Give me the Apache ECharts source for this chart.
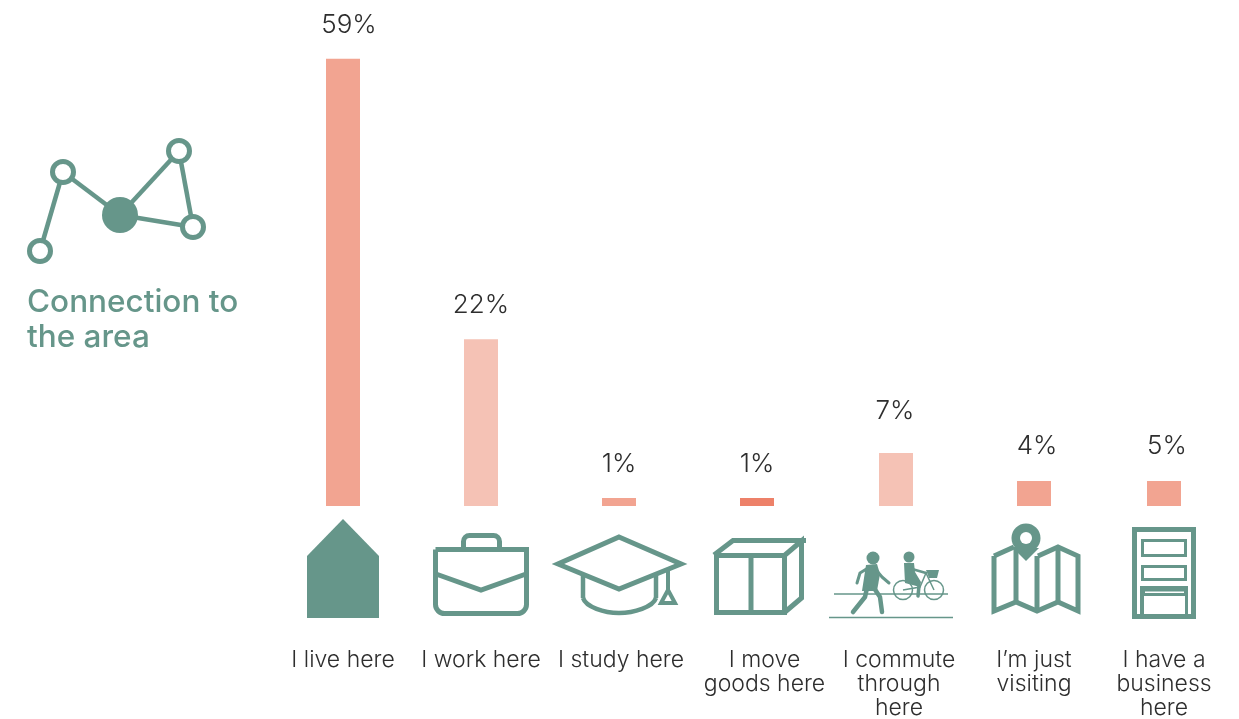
<!DOCTYPE html>
<html><head><meta charset="utf-8">
<style>html,body{margin:0;padding:0;background:#fff}#c{width:1239px;height:719px}</style>
<script src="https://cdn.jsdelivr.net/npm/echarts@6/dist/echarts.min.js"></script>
</head><body><div id="c"></div>
<script>
// ---- data ----
const categories = ['I live here','I work here','I study here','I move\ngoods here','I commute\nthrough\nhere','I\u2019m just\nvisiting','I have a\nbusiness\nhere'];
const valueLabels = ['59%','22%','1%','1%','7%','4%','5%'];
// bar heights as drawn (the last two are drawn equally tall in the original)
const barValues = [59,22,1.05,1.05,7,3.3,3.3];
const barShades = ['mid','light','mid','strong','light','mid','mid'];
const titleText = 'Connection to\nthe area';

// ---- layout / style ----
const GREEN='#66968a', TEXT='#2e2e2e';
const shadeColor={mid:'#f2a491',light:'#f5c2b5',strong:'#ed8169'};
const FONT='Inter';
const barNudge=[0,0,0,0,1,1,-7];
const valueNudge=[6,0,0,0,0,4,-4];
const valueLift=[0,0,0,0,8,1,1];
const catNudge=[0,0,2,7.5,4,1,-7];

const rich={};
catNudge.forEach((n,i)=>{rich['c'+i]={fontFamily:FONT,fontWeight:300,fontSize:23,lineHeight:24,color:TEXT,
  padding:n>=0?[0,0,0,2*n]:[0,-2*n,0,0]};});

// ---- icon helpers (decoration only) ----
const lw=(s,w,extra)=>Object.assign({stroke:GREEN,lineWidth:w,fill:null},extra||{});
const pl=(points,w,extra)=>({type:'polyline',shape:{points},style:lw(0,w,extra)});
const pg=(points)=>({type:'polygon',shape:{points},style:{fill:GREEN}});
const ring=(cx,cy,r,w)=>({type:'circle',shape:{cx,cy,r},style:{fill:'#fff',stroke:GREEN,lineWidth:w}});
const disc=(cx,cy,r,fill)=>({type:'circle',shape:{cx,cy,r},style:{fill:fill||GREEN}});
const box=(x,y,width,height,w,r)=>({type:'rect',shape:{x,y,width,height,r:r||0},style:{fill:null,stroke:GREEN,lineWidth:w}});
const solid=(x,y,width,height,fill)=>({type:'rect',shape:{x,y,width,height},style:{fill:fill||GREEN}});
const round={lineCap:'round',lineJoin:'round'};

const icons=[
 // network
 pl([[40,251],[63,172]],4.5),pl([[63,172],[120,215]],4.5),pl([[120,215],[179,151]],4.5),
 pl([[179,151],[193,227]],4.5),pl([[120,215],[193,227]],4.5),
 ring(63,172,10.5,5),ring(40,251,10.5,5),ring(179,151,10.5,5),ring(193,227,10.5,5),disc(120,215,18),
 // house
 pg([[343,519],[379,556],[379,618],[307,618],[307,556]]),
 // briefcase
 {type:'rect',shape:{x:435.5,y:549.5,width:91,height:64,r:[0,0,9,9]},style:{fill:null,stroke:GREEN,lineWidth:5}},
 {type:'rect',shape:{x:463.5,y:535.5,width:36,height:14,r:[6,6,0,0]},style:{fill:null,stroke:GREEN,lineWidth:5}},
 pl([[436,574],[481,590],[526,574]],5),
 // graduation cap
 {type:'bezierCurve',shape:{x1:583,y1:598,cpx1:586,cpy1:607,cpx2:604,cpy2:613,x2:619,y2:613},style:lw(0,4.5)},
 {type:'bezierCurve',shape:{x1:619,y1:613,cpx1:634,cpy1:613,cpx2:653,cpy2:607,x2:656,y2:598},style:lw(0,4.5)},
 pl([[583,575],[583,598]],4.5),pl([[656,575],[656,598]],4.5),
 {type:'polygon',shape:{points:[[619,537],[681,564],[619,589],[558,564]]},style:{fill:'#fff',stroke:GREEN,lineWidth:5,lineJoin:'miter',miterLimit:10}},
 pl([[668,570],[668,590]],4),
 {type:'polygon',shape:{points:[[668,590],[675,603],[661,603]]},style:{fill:'#fff',stroke:GREEN,lineWidth:4}},
 // box
 box(716.5,555.5,68,57,5),solid(748.5,555,5,58),
 pl([[714,555],[733,540.5],[806,540.5]],5),
 pl([[785,555],[801.5,541],[801.5,598],[785,612]],5),
 // commuters
 pl([[834,594],[948,594]],1.5),pl([[829,617.5],[953,617.5]],1.5),
 disc(873,558,6.5),
 pg([[866,565],[877,564],[880,574],[877,591],[862,591]]),
 pl([[868,568],[860,573],[857,583]],3,round),pl([[877,571],[882,577],[889,583]],3,round),
 pl([[867,588],[865,597],[853,612]],4.5,round),pl([[874,588],[880,597],[882,612]],4.5,round),
 {type:'circle',shape:{cx:903,cy:590,r:9.5},style:{fill:null,stroke:GREEN,lineWidth:1.5}},
 {type:'circle',shape:{cx:934,cy:590,r:9.5},style:{fill:null,stroke:GREEN,lineWidth:1.5}},
 disc(909,557,5.5),
 pg([[904,563],[914,563],[915,572],[921,582],[920,587],[905,583]]),
 pl([[912,569],[926,573]],2.5,round),pl([[917,583],[919,586],[918,596]],3.5,round),
 pl([[903,590],[920,587],[926,573],[934,590]],1.5),
 pg([[926,570],[939,570],[937,578],[929,578]]),
 // map
 pl([[994,556],[994,611],[1016,602],[1037,611],[1058,602],[1078,611],[1078,556],[1058,547],[1038,556]],5),
 pl([[994,556],[1014,547]],5),
 pl([[1016,547],[1016,602]],5),pl([[1037,556],[1037,611]],5),pl([[1058,547],[1058,602]],5),
 {type:'polygon',shape:{points:[[1013,548],[1039,548],[1026,561]]},style:{fill:GREEN}},
 disc(1026,538,14.5),disc(1026,538,6,'#fff'),
 // business door
 box(1134.5,529.5,59,87,5),solid(1132,614,64,5),
 box(1142.5,540.5,43,15,3),box(1142.5,566.5,43,13,3),
 solid(1140,586,48,29),solid(1144,596,41,18,'#fff'),solid(1145,591.5,39,1.6,'#fff')
];
icons.forEach(o=>{o.silent=true;});

// ---- chart ----
const chart=echarts.init(document.getElementById('c'),null,{renderer:'canvas'});
chart.setOption({
  animation:false,
  backgroundColor:'#fff',
  title:{text:titleText,left:27,top:285,padding:0,
    textStyle:{fontFamily:FONT,fontWeight:500,fontSize:31.5,lineHeight:35,color:GREEN}},
  grid:{left:274,width:966,top:51.2,height:454.8,outerBoundsMode:'none'},
  xAxis:{type:'category',data:categories,axisLine:{show:false},axisTick:{show:false},splitLine:{show:false},
    axisLabel:{interval:0,margin:142,hideOverlap:false,
      formatter:(v,i)=>v.split('\n').map(l=>`{c${i}|${l}}`).join('\n'),rich}},
  yAxis:{type:'value',min:0,max:60,show:false},
  graphic:icons,
  series:[{type:'custom',clip:false,
    data:barValues.map((v,i)=>[i,v]),
    encode:{x:0,y:1},
    renderItem:(p,api)=>{
      const i=api.value(0),v=api.value(1);
      const top=api.coord([i,v]),base=api.coord([i,0]);
      const W=34;
      return {type:'group',children:[
        {type:'rect',shape:{x:top[0]-W/2+barNudge[i],y:top[1],width:W,height:base[1]-top[1]},
         style:{fill:shadeColor[barShades[i]]}},
        {type:'text',style:{text:valueLabels[i],x:top[0]+valueNudge[i],y:top[1]-21-valueLift[i],
          align:'center',verticalAlign:'bottom',fontFamily:FONT,fontWeight:300,fontSize:26,fill:TEXT}}
      ]};
    }}]
});
</script></body></html>
